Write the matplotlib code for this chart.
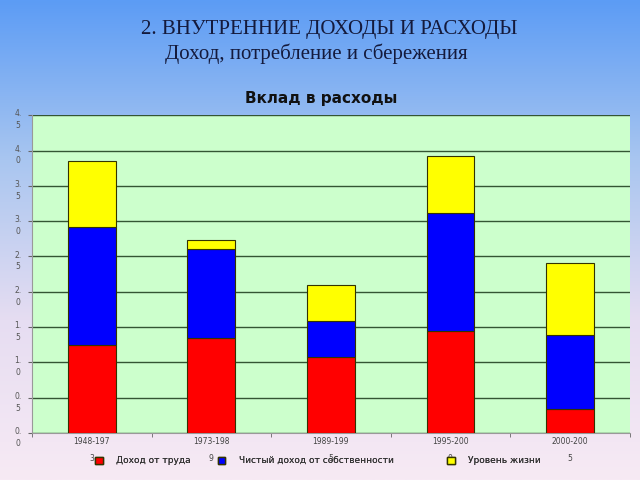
import numpy as np
import matplotlib
matplotlib.use("Agg")
import matplotlib.pyplot as plt
from matplotlib.colors import LinearSegmentedColormap
from matplotlib.patches import Patch
from matplotlib.transforms import ScaledTranslation

categories = ["1948-197\n3", "1973-198\n9", "1989-199\n5", "1995-200\n0", "2000-200\n5"]
labor = [1.24, 1.35, 1.07, 1.45, 0.34]
property_income = [1.67, 1.25, 0.51, 1.67, 1.05]
living = [0.94, 0.13, 0.52, 0.80, 1.02]
yticks = [0.0, 0.5, 1.0, 1.5, 2.0, 2.5, 3.0, 3.5, 4.0, 4.5]
ytick_labels = ["0.\n0", "0.\n5", "1.\n0", "1.\n5", "2.\n0", "2.\n5", "3.\n0", "3.\n5", "4.\n0", "4.\n5"]
series_names = ["Доход от труда", "Чистый доход от собственности", "Уровень жизни"]
colors = ["#FF0000", "#0000FF", "#FFFF00"]

fig = plt.figure(figsize=(6.4, 4.8), dpi=100)

# background gradient
bg = fig.add_axes([0, 0, 1, 1], zorder=-10)
cmap = LinearSegmentedColormap.from_list("bg", ["#5C9CF5", "#A9C6F0", "#E6DDF2", "#F7EAF4"])
grad = np.linspace(0, 1, 256).reshape(-1, 1)
bg.imshow(grad, aspect="auto", cmap=cmap, extent=[0, 1, 0, 1])
bg.axis("off")

fig.text(0.515, 0.938, "2. ВНУТРЕННИЕ ДОХОДЫ И РАСХОДЫ", ha="center", va="center",
         fontsize=15, family="Liberation Serif", color="#141a3c")
fig.text(0.495, 0.887, "Доход, потребление и сбережения", ha="center", va="center",
         fontsize=15, family="Liberation Serif", color="#141a3c")
fig.text(0.502, 0.795, "Вклад в расходы", ha="center", va="center",
         fontsize=11, fontweight="bold", family="DejaVu Sans", color="#111111")

ax = fig.add_axes([0.05, 0.098, 0.934, 0.662])
ax.set_facecolor("#CCFFCC")
x = np.arange(len(categories))
w = 0.4
bottom = np.zeros(len(categories))
for vals, c, name in zip([labor, property_income, living], colors, series_names):
    ax.bar(x, vals, w, bottom=bottom, color=c, edgecolor="#333300", linewidth=0.8, label=name, zorder=3)
    bottom += np.array(vals)

ax.set_xlim(-0.5, 4.5)
ax.set_ylim(0, 4.5)
ax.set_yticks(yticks)
ax.set_yticklabels([])
# wrapped y tick labels, first line centred on the tick
off = ScaledTranslation(0, -4.5 / 100, fig.dpi_scale_trans)
for yv, lab in zip(yticks, ytick_labels):
    ax.text(-0.0234, yv, lab, transform=ax.get_yaxis_transform() + off, ha="center", va="center",
            fontsize=5.5, color="#555555", linespacing=1.4, clip_on=False)
ax.yaxis.grid(True, color="#335533", linewidth=1.0, zorder=1)
ax.set_xticks(x)
ax.set_xticklabels(categories, fontsize=5.5, color="#444444", linespacing=2.1)
ax.set_xticks(np.arange(-0.5, 5.0, 1.0), minor=True)
ax.tick_params(axis="x", which="major", length=0, pad=3)
ax.tick_params(axis="x", which="minor", length=3, color="#666666")
ax.tick_params(axis="y", length=3, color="#666666")
for s in ["top", "right"]:
    ax.spines[s].set_visible(False)
ax.spines["left"].set_color("#999999")
ax.spines["bottom"].set_color("#999999")

# legend entries placed individually
leg_x = [0.149, 0.341, 0.699]
for name, c, lx in zip(series_names, colors, leg_x):
    lg = fig.legend([Patch(facecolor=c, edgecolor="#333300")], [name], loc="center left",
                    bbox_to_anchor=(lx, 0.04), frameon=False, fontsize=6.5,
                    handlelength=0.8, handleheight=0.8, handletextpad=1.5,
                    borderaxespad=0, borderpad=0, labelcolor="#333333")
    fig.add_artist(lg)

fig.savefig("out.png", dpi=100)
